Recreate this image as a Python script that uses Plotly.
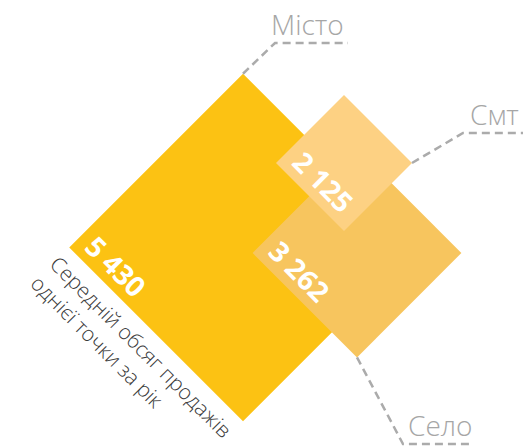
import plotly.graph_objects as go

# data
categories = ['Місто', 'Село', 'Смт']
values = [5430, 3262, 2125]
value_labels = ['5 430', '3 262', '2 125']
caption = 'Середній обсяг продажів<br>однієї точки за рік'

# layout (pixel space)
W, H = 532, 446
K = 0.032  # half-diagonal px per unit
centers = {'Місто': (243, 247.5), 'Село': (357, 253), 'Смт': (344, 163)}
colors = {'Місто': '#FCC213', 'Село': '#F7C55E', 'Смт': '#FDD183'}
leaders = {
    'Місто': dict(corner='top', elbow=(275, 43), end=348, text=(307, 24)),
    'Смт': dict(corner='right', elbow=(463, 133), end=523, text=(494, 114)),
    'Село': dict(corner='bottom', elbow=(403, 444), end=472, text=(440, 425)),
}

fig = go.Figure()

for cat, val in zip(categories, values):
    cx, cy = centers[cat]
    h = K * val
    fig.add_trace(go.Scatter(
        x=[cx - h, cx, cx + h, cx, cx - h],
        y=[cy, cy - h, cy, cy + h, cy],
        fill='toself', fillcolor=colors[cat], mode='none',
        hoverinfo='skip', showlegend=False))

for cat, val in zip(categories, values):
    cx, cy = centers[cat]
    h = K * val
    ld = leaders[cat]
    sx, sy = {'top': (cx, cy - h), 'right': (cx + h, cy),
              'bottom': (cx, cy + h)}[ld['corner']]
    ex, ey = ld['elbow']
    fig.add_trace(go.Scatter(
        x=[sx, ex, ld['end']], y=[sy, ey, ey], mode='lines',
        line=dict(color='#ABABAB', width=2.5, dash='8px,5px'),
        hoverinfo='skip', showlegend=False))
    fig.add_annotation(
        x=ld['text'][0], y=ld['text'][1], text=cat, showarrow=False,
        xanchor='center', yanchor='middle',
        font=dict(family='Open Sans', size=28, color='#A6A6A6', weight=300))

for cat, val, lab in zip(categories, values, value_labels):
    cx, cy = centers[cat]
    h = K * val
    fig.add_annotation(
        x=cx - h + 47, y=cy + 18, text=lab, showarrow=False, textangle=45,
        xanchor='center', yanchor='middle',
        font=dict(family='Open Sans', size=28, color='white', weight='bold'))

fig.add_annotation(
    x=132, y=356, text=caption, showarrow=False, textangle=45, align='left',
    xanchor='center', yanchor='middle',
    font=dict(family='Open Sans', size=21, color='#3A3A3A', weight=300))

fig.update_layout(
    width=W, height=H, margin=dict(l=0, r=0, t=0, b=0),
    paper_bgcolor='white', plot_bgcolor='white',
    xaxis=dict(range=[0, W], visible=False, fixedrange=True),
    yaxis=dict(range=[H, 0], visible=False, fixedrange=True),
)

fig.write_html("out.html", config={'displayModeBar': False},
               post_script="document.body.style.margin='0';")
